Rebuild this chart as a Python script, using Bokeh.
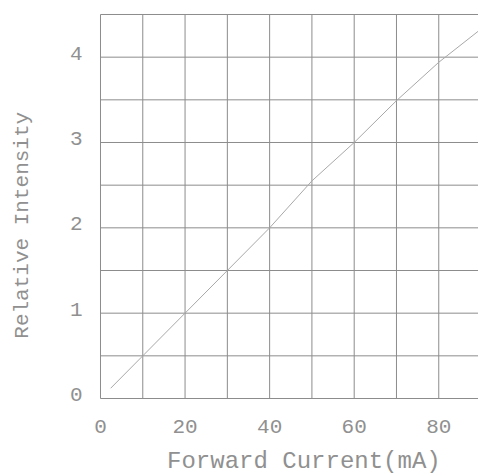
import numpy as np
from bokeh.plotting import figure
from bokeh.models import Label, Range1d
from bokeh.core.properties import value
from bokeh.embed import file_html
from bokeh.resources import INLINE

current_ma = [2.4, 10, 20, 30, 40, 50, 60, 70, 80, 90]
intensity = [0.12, 0.5, 1.0, 1.5, 2.0, 2.55, 3.0, 3.49, 3.94, 4.33]
x_tick_labels = [0, 20, 40, 60, 80]
y_tick_labels = [0, 1, 2, 3, 4]
x_grid = [0, 10, 20, 30, 40, 50, 60, 70, 80, 90]
y_grid = [0, 0.5, 1, 1.5, 2, 2.5, 3, 3.5, 4, 4.5]

FONT = "Liberation Mono"
TXT = "#909090"
GRID = "#8c8c8c"

# The whole canvas is the frame; the visible plot box spans x 0..89.4, y 0..4.5
p = figure(width=478, height=476, output_backend="svg", toolbar_location=None,
           x_range=Range1d(-23.65, 89.4), y_range=Range1d(-0.914, 4.664),
           x_axis_location=None, y_axis_location=None,
           min_border=0, min_border_left=0, min_border_right=0,
           min_border_top=0, min_border_bottom=0)
p.outline_line_color = None
p.grid.visible = False
p.background_fill_color = "white"
p.border_fill_color = "white"

y_lo, y_hi = y_grid[0], y_grid[-1]
x_lo, x_hi = x_grid[0], x_grid[-1]
# grid lines
p.segment(x0=x_grid, y0=[y_lo] * len(x_grid), x1=x_grid, y1=[y_hi] * len(x_grid),
          line_color=GRID, line_width=1)
p.segment(x0=[x_lo] * len(y_grid), y0=y_grid, x1=[x_hi] * len(y_grid), y1=y_grid,
          line_color=GRID, line_width=1)

# data
p.line(current_ma, intensity, line_color="#a8a8a8", line_width=1)

# tick labels
p.text(x=x_tick_labels, y=[y_lo] * len(x_tick_labels), text=[str(v) for v in x_tick_labels],
       y_offset=28, text_align="center", text_baseline="middle",
       text_font=value(FONT), text_font_size="21px", text_color=TXT)
p.text(x=[x_lo] * len(y_tick_labels), y=y_tick_labels, text=[str(v) for v in y_tick_labels],
       x_offset=-18, y_offset=-4, text_align="right", text_baseline="middle",
       text_font=value(FONT), text_font_size="21px", text_color=TXT)

# axis titles
p.add_layout(Label(x=48.1, y=-0.735, text="Forward Current(mA)", text_font=FONT,
                   text_font_size="24px", text_color=TXT, text_align="center",
                   text_baseline="middle"))
p.add_layout(Label(x=-18.45, y=2.03, text="Relative Intensity", text_font=FONT,
                   text_font_size="21px", text_color=TXT, text_align="center",
                   text_baseline="middle", angle=np.pi / 2))

open("out.html", "w").write(file_html(p, INLINE))
